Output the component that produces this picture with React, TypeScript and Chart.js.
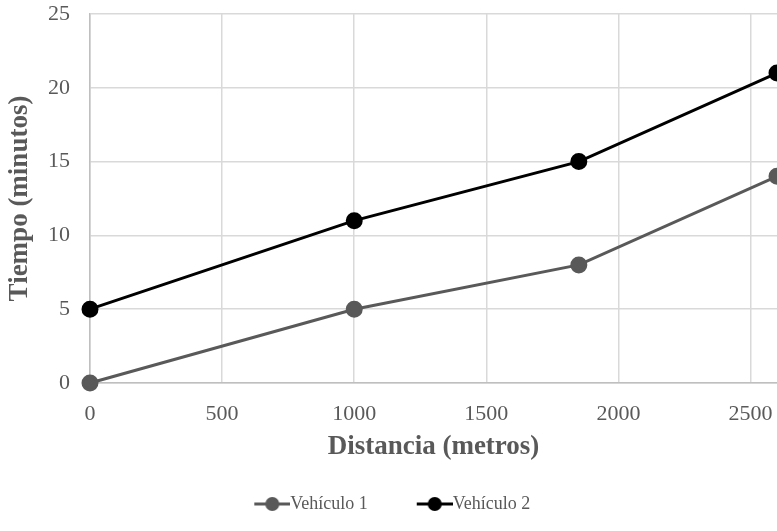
import React, { useEffect, useRef } from "react";
import { Chart, registerables } from "chart.js";

Chart.register(...registerables);

const distances = [0, 1000, 1850, 2600];
const vehiculo1 = [0, 5, 8, 14];
const vehiculo2 = [5, 11, 15, 21];
const xTicks = [0, 500, 1000, 1500, 2000, 2500];
const seriesNames = ["Vehículo 1", "Vehículo 2"];
const seriesColors = ["#595959", "#000000"];

const BOX_W = 57;

function legendMarker(color: string): HTMLCanvasElement {
  const c = document.createElement("canvas");
  const w = BOX_W + 18;
  c.width = w;
  c.height = 16;
  const ctx = c.getContext("2d")!;
  ctx.strokeStyle = color;
  ctx.lineWidth = 3;
  ctx.beginPath();
  ctx.moveTo(BOX_W - 18, 8);
  ctx.lineTo(BOX_W + 18, 8);
  ctx.stroke();
  ctx.fillStyle = color;
  ctx.beginPath();
  ctx.arc(BOX_W, 8, 7, 0, Math.PI * 2);
  ctx.fill();
  return c;
}

export default function App() {
  const ref = useRef<HTMLCanvasElement>(null);
  useEffect(() => {
    if (!ref.current) return;
    const font = "'Liberation Serif', 'Times New Roman', serif";
    const mk = (vals: number[]) => distances.map((d, i) => ({ x: d, y: vals[i] }));
    const chart = new Chart(ref.current, {
      type: "line",
      data: {
        datasets: [
          {
            label: seriesNames[0],
            data: mk(vehiculo1),
            borderColor: seriesColors[0],
            backgroundColor: seriesColors[0],
            borderWidth: 3,
            pointRadius: 7,
            pointHoverRadius: 7,
            clip: false as any,
          },
          {
            label: seriesNames[1],
            data: mk(vehiculo2),
            borderColor: seriesColors[1],
            backgroundColor: seriesColors[1],
            borderWidth: 3,
            pointRadius: 7,
            pointHoverRadius: 7,
            clip: false as any,
          },
        ],
      },
      options: {
        animation: false,
        responsive: true,
        maintainAspectRatio: false,
        layout: { padding: { top: 0, left: 0, right: 0, bottom: 8 }, autoPadding: false } as any,
        scales: {
          x: {
            type: "linear",
            min: 0,
            max: 2600,
            afterBuildTicks: (axis: any) => {
              axis.ticks = xTicks.map((v) => ({ value: v }));
            },
            afterFit: (axis: any) => {
              axis.paddingRight = 0;
              axis.height = 93;
            },
            grid: { color: "#d9d9d9", lineWidth: 1.5, tickLength: 0, drawTicks: false },
            border: { color: "#bfbfbf", width: 1.5 },
            ticks: {
              color: "#595959",
              font: { family: font, size: 22 },
              padding: 18,
              maxRotation: 0,
              callback: (v: any) => String(v),
            },
            title: {
              display: true,
              text: "Distancia (metros)",
              color: "#595959",
              font: { family: font, size: 27, weight: "bold" },
              padding: { top: 2, bottom: 13 },
            },
          },
          y: {
            min: 0,
            max: 25,
            afterFit: (axis: any) => {
              axis.paddingTop = 14;
              axis.width = 90;
            },
            ticks: {
              stepSize: 5,
              color: "#595959",
              font: { family: font, size: 22 },
              padding: 20,
              callback: (v: any) => String(v),
            },
            grid: { color: "#d9d9d9", lineWidth: 1.5, tickLength: 0, drawTicks: false },
            border: { color: "#bfbfbf", width: 1.5 },
            title: {
              display: true,
              text: "Tiempo (minutos)",
              color: "#595959",
              font: { family: font, size: 27, weight: "bold" },
              padding: { top: 4, bottom: 10 },
            },
          },
        },
        plugins: {
          tooltip: { enabled: false },
          legend: {
            position: "bottom",
            labels: {
              color: "#595959",
              font: { family: font, size: 18 },
              usePointStyle: true,
              pointStyleWidth: BOX_W,
              padding: 19,
              generateLabels: () =>
                seriesNames.map((n, i) => ({
                  text: i === seriesNames.length - 1 ? n + "\u00a0\u00a0\u00a0\u00a0\u00a0" : n,
                  fillStyle: seriesColors[i],
                  strokeStyle: seriesColors[i],
                  pointStyle: legendMarker(seriesColors[i]) as any,
                  lineWidth: 0,
                  hidden: false,
                  datasetIndex: i,
                  fontColor: "#595959",
                })),
            },
          },
        },
      },
    });
    return () => chart.destroy();
  }, []);
  return (
    <div style={{ position: "absolute", left: 0, top: 0, width: 777, height: 531, background: "#fff" }}>
      <canvas ref={ref} />
    </div>
  );
}
